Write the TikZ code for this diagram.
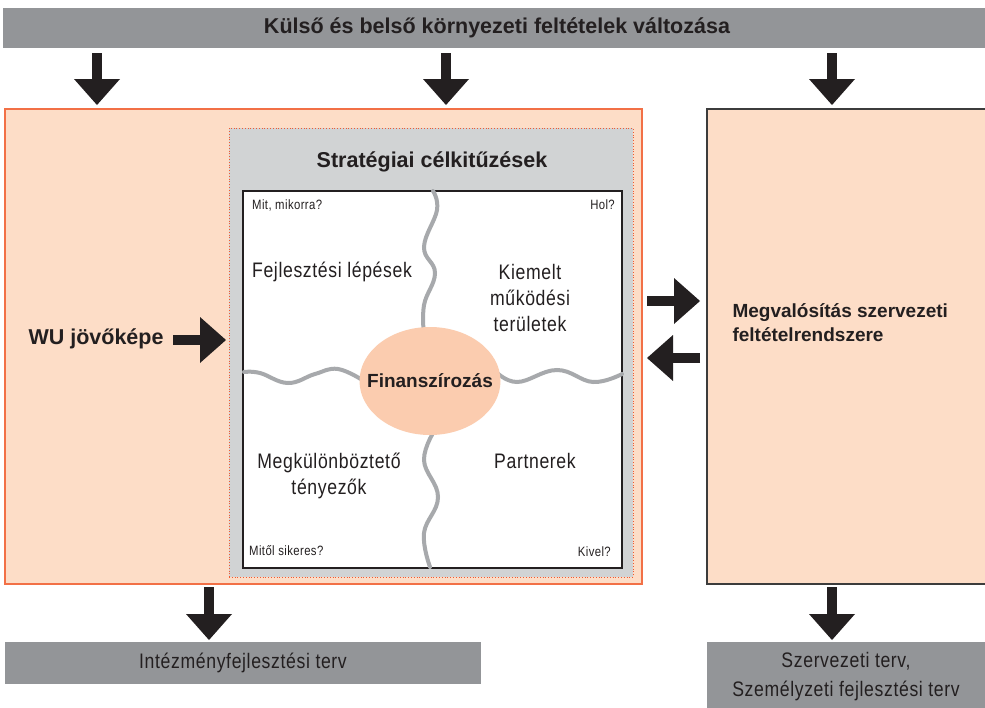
\documentclass[tikz,border=0pt]{standalone}
\usepackage{fontspec}
\setmainfont{Liberation Sans}
\newfontfamily\condfont[FakeStretch=0.84,LetterSpace=3]{Liberation Sans}
\usetikzlibrary{arrows.meta,shapes.geometric}

\definecolor{ink}{RGB}{35,31,32}
\definecolor{bannergray}{RGB}{147,149,152}
\definecolor{peach}{RGB}{253,221,199}
\definecolor{orangeedge}{RGB}{242,112,70}
\definecolor{dotred}{RGB}{240,90,50}
\definecolor{midgray}{RGB}{209,211,212}
\definecolor{ellfill}{RGB}{251,204,175}
\definecolor{wavegray}{RGB}{167,169,172}
\definecolor{boxedge}{RGB}{60,60,60}

\begin{document}
\begin{tikzpicture}[x=1pt,y=-1pt,
  every node/.style={text=ink},
  box/.style={inner sep=0pt,outer sep=0pt,anchor=north west},
  blk/.style={draw=ink,line width=10pt,-{Triangle[width=46pt,length=26pt,line width=0pt]}},
  wave/.style={draw=wavegray,line width=4pt,line cap=round},
  headtxt/.style={font=\fontsize{21.5}{24}\selectfont\bfseries},
  midtxt/.style={font=\fontsize{19}{24}\selectfont\bfseries},
  quadtxt/.style={align=center,font=\condfont\fontsize{21}{26}\selectfont},
  smalltxt/.style={font=\condfont\fontsize{13.5}{16}\selectfont,inner sep=0pt},
  plantxt/.style={align=center,font=\condfont\fontsize{21}{29}\selectfont}]
\useasboundingbox (0,0) rectangle (985,707);
\begin{scope}
\clip (0,0) rectangle (985,707);

% top banner
\node[box,fill=bannergray,minimum width=990pt,minimum height=40pt] (banner) at (3,8) {};
\node[headtxt] (bannertxt) at (497,28) {Külső és belső környezeti feltételek változása};

% left frame: vision and strategy
\node[box,fill=peach,draw=orangeedge,line width=1.2pt,minimum width=637pt,minimum height=475pt] (plan) at (5,109) {};
\node[box,fill=midgray,draw=dotred,dotted,line width=0.8pt,minimum width=404pt,minimum height=449pt] (strat) at (229,128) {};
\node[headtxt] (strattitle) at (432,162) {Stratégiai célkitűzések};
\node[box,fill=white,draw=ink,line width=1.5pt,minimum width=379pt,minimum height=377pt] (quad) at (243,191) {};

% puzzle seams between the quadrants
\draw[wave] plot[smooth,tension=0.7] coordinates {(433,191) (437,210) (424,247) (435,273) (424,305) (424,335)};
\draw[wave] plot[smooth,tension=0.7] coordinates {(436,428) (424,460) (438,497) (424,533) (430,567)};
\draw[wave] plot[smooth,tension=0.7] coordinates {(244,372) (260,373) (288,383) (315,374) (338,369) (364,381)};
\draw[wave] plot[smooth,tension=0.7] coordinates {(494,370) (517,382) (557,370) (593,382) (622,374)};

% financing at the centre
\node[ellipse,fill=ellfill,minimum width=141pt,minimum height=108pt,inner sep=0pt] (fin) at (430,381) {};
\node[midtxt] (fintxt) at (fin.center) {Finanszírozás};

% quadrant captions
\node[smalltxt,anchor=west] (q1) at (252,205) {Mit, mikorra?};
\node[smalltxt,anchor=east] (q2) at (615,205) {Hol?};
\node[smalltxt,anchor=west] (q3) at (249,551) {Mitől sikeres?};
\node[smalltxt,anchor=east] (q4) at (611,552) {Kivel?};
\node[quadtxt] (fejl) at (332,272) {Fejlesztési lépések};
\node[quadtxt] (kiem) at (530,298) {Kiemelt\\működési\\területek};
\node[quadtxt] (megk) at (329,476) {Megkülönböztető\\tényezők};
\node[quadtxt] (partn) at (535,461) {Partnerek};

% vision
\node[headtxt,anchor=west] (wu) at (25,339) {WU jövőképe};

% right frame: organisational conditions
\node[box,fill=peach,draw=boxedge,line width=1.5pt,minimum width=300pt,minimum height=475pt] (impl) at (707,109) {};
\node[midtxt,anchor=west,align=left] (impltxt) at (729,323) {Megvalósítás szervezeti\\feltételrendszere};

% output plans
\node[box,fill=bannergray,minimum width=476pt,minimum height=42pt] (ifp) at (5,642) {};
\node[plantxt] (ifptxt) at (243,663) {Intézményfejlesztési terv};
\node[box,fill=bannergray,minimum width=300pt,minimum height=70pt] (szt) at (707,642) {};
\node[plantxt] (szttxt) at (846,677) {Szervezeti terv,\\Személyzeti fejlesztési terv};

% block arrows
\coordinate (t1a) at (97,53);   \coordinate (t1b) at (97,105);
\coordinate (t2a) at (446,53);  \coordinate (t2b) at (446,105);
\coordinate (t3a) at (832,53);  \coordinate (t3b) at (832,105);
\coordinate (wua) at (173,340); \coordinate (wub) at (226,340);
\coordinate (ra) at (647,301);  \coordinate (rb) at (700,301);
\coordinate (la) at (700,358);  \coordinate (lb) at (647,358);
\coordinate (b1a) at (209,587); \coordinate (b1b) at (209,640);
\coordinate (b2a) at (832,587); \coordinate (b2b) at (832,640);
\draw[blk] (t1a) -- (t1b);
\draw[blk] (t2a) -- (t2b);
\draw[blk] (t3a) -- (t3b);
\draw[blk] (wua) -- (wub);
\draw[blk] (ra) -- (rb);
\draw[blk] (la) -- (lb);
\draw[blk] (b1a) -- (b1b);
\draw[blk] (b2a) -- (b2b);
\end{scope}
\end{tikzpicture}
\end{document}
